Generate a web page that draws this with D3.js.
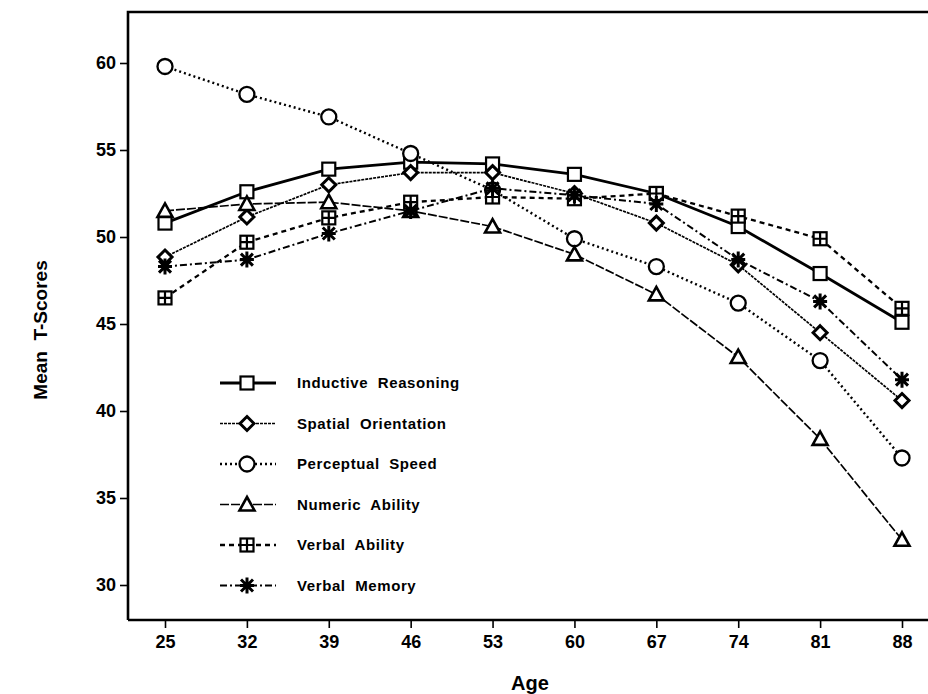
<!DOCTYPE html>
<html><head><meta charset="utf-8">
<script src="https://cdn.jsdelivr.net/npm/d3@7"></script>
<style>body{margin:0;background:#fff}svg{display:block}text{font-family:"Liberation Sans",Arial,sans-serif;font-weight:bold;fill:#000}</style>
</head><body><svg id="c" width="928" height="694"></svg>
<script>
const ages = [25, 32, 39, 46, 53, 60, 67, 74, 81, 88];
const yTicks = [30, 35, 40, 45, 50, 55, 60];
const seriesNames = ["Inductive  Reasoning", "Spatial  Orientation", "Perceptual  Speed", "Numeric  Ability", "Verbal  Ability", "Verbal  Memory"];
const inductive = [50.8, 52.6, 53.9, 54.3, 54.2, 53.6, 52.5, 50.6, 47.9, 45.1];
const spatial = [48.85, 51.15, 53.0, 53.7, 53.7, 52.5, 50.8, 48.4, 44.5, 40.6];
const perceptual = [59.8, 58.2, 56.9, 54.8, 52.7, 49.9, 48.3, 46.2, 42.9, 37.3];
const numeric = [51.5, 51.9, 52.0, 51.5, 50.6, 49.0, 46.7, 43.1, 38.4, 32.6];
const verbalAbility = [46.5, 49.7, 51.1, 52.0, 52.3, 52.2, 52.5, 51.2, 49.9, 45.9];
const verbalMemory = [48.3, 48.7, 50.2, 51.5, 52.8, 52.4, 51.9, 48.7, 46.3, 41.8];

const svg = d3.select("#c");
const x = d3.scaleLinear().domain([25, 88]).range([165, 902]);
const y = d3.scaleLinear().domain([30, 60]).range([585, 63]);
const xMin = x.invert(128), yMin = y.invert(620), yMax = y.invert(12);
const tickFont = "'Liberation Sans Narrow', 'Liberation Sans', Arial, sans-serif";

const styles = [
  {w: 2.8, dash: null, m: "square"},
  {w: 1.7, dash: "3,1", m: "diamond"},
  {w: 2.4, dash: "2,3", m: "circle"},
  {w: 1.7, dash: "9,2", m: "triangle"},
  {w: 2.3, dash: "5,4", m: "plus"},
  {w: 2.0, dash: "7,3,2,3", m: "star"}
];
const data = [inductive, spatial, perceptual, numeric, verbalAbility, verbalMemory];

// frame
svg.append("path").attr("d", `M${x(xMin)},${y(yMin)}V${y(yMax)}H940M${x(xMin)},${y(yMin)}H940`)
  .attr("fill", "none").attr("stroke", "#000").attr("stroke-width", 2.6);

// axes
const yAxis = d3.axisLeft(y).tickValues(yTicks).tickSize(8).tickPadding(4);
const ga = svg.append("g").attr("transform", `translate(${x(xMin)},0)`).call(yAxis);
ga.select(".domain").remove();
ga.selectAll("line").attr("stroke-width", 1.6);
ga.selectAll("text").style("font-size", "18px").style("font-family", tickFont).style("font-weight", "bold");

const xAxis = d3.axisBottom(x).tickValues(ages).tickSize(8).tickPadding(7);
const gx = svg.append("g").attr("transform", `translate(0,${y(yMin)})`).call(xAxis);
gx.select(".domain").remove();
gx.selectAll("line").attr("stroke-width", 1.6);
gx.selectAll("text").style("font-size", "18px").style("font-family", tickFont).style("font-weight", "bold");

svg.append("text").attr("x", 530).attr("y", 690).attr("text-anchor", "middle").style("font-size", "20px").text("Age");
svg.append("text").attr("transform", "translate(47,330) rotate(-90)").attr("text-anchor", "middle")
  .style("font-size", "19px").style("white-space", "pre").text("Mean  T-Scores");

function marker(g, type) {
  if (type === "square") g.append("rect").attr("x", -6.5).attr("y", -6.5).attr("width", 13).attr("height", 13).attr("fill", "#fff").attr("stroke", "#000").attr("stroke-width", 2.2);
  if (type === "diamond") g.append("path").attr("d", "M0,-7L7,0L0,7L-7,0Z").attr("fill", "#fff").attr("stroke", "#000").attr("stroke-width", 3);
  if (type === "circle") g.append("circle").attr("r", 7.5).attr("fill", "#fff").attr("stroke", "#000").attr("stroke-width", 2.3);
  if (type === "triangle") g.append("path").attr("d", "M0,-7.5L7.5,6L-7.5,6Z").attr("fill", "#fff").attr("stroke", "#000").attr("stroke-width", 2.6).attr("stroke-linejoin", "miter");
  if (type === "plus") {
    g.append("rect").attr("x", -6.5).attr("y", -6.5).attr("width", 13).attr("height", 13).attr("fill", "#fff").attr("stroke", "#000").attr("stroke-width", 2.2);
    g.append("path").attr("d", "M0,-6.5V6.5M-6.5,0H6.5").attr("stroke", "#000").attr("stroke-width", 2.2);
  }
  if (type === "star") {
    g.append("path").attr("d", "M0,-8V8M-7,0H7M-6,-6L6,6M-6,6L6,-6").attr("stroke", "#000").attr("stroke-width", 3).attr("stroke-linecap", "butt");
    g.append("circle").attr("r", 3.5).attr("fill", "#000");
  }
}

const line = d3.line().x((d, i) => x(ages[i])).y(d => y(d));
data.forEach((vals, k) => {
  const st = styles[k];
  svg.append("path").datum(vals).attr("d", line).attr("fill", "none").attr("stroke", "#000")
    .attr("stroke-width", st.w).attr("stroke-dasharray", st.dash);
});
data.forEach((vals, k) => {
  vals.forEach((v, i) => {
    const g = svg.append("g").attr("transform", `translate(${x(ages[i])},${y(v)})`);
    marker(g, styles[k].m);
  });
});

// legend
seriesNames.forEach((name, k) => {
  const ly = 383 + 40.5 * k;
  const st = styles[k];
  svg.append("line").attr("x1", 220).attr("x2", 276).attr("y1", ly).attr("y2", ly).attr("stroke", "#000")
    .attr("stroke-width", st.w).attr("stroke-dasharray", st.dash);
  marker(svg.append("g").attr("transform", `translate(247,${ly})`), st.m);
  svg.append("text").attr("x", 297).attr("y", ly + 5).style("font-size", "15px").style("letter-spacing", "0.6px")
    .style("white-space", "pre").text(name);
});
</script></body></html>
